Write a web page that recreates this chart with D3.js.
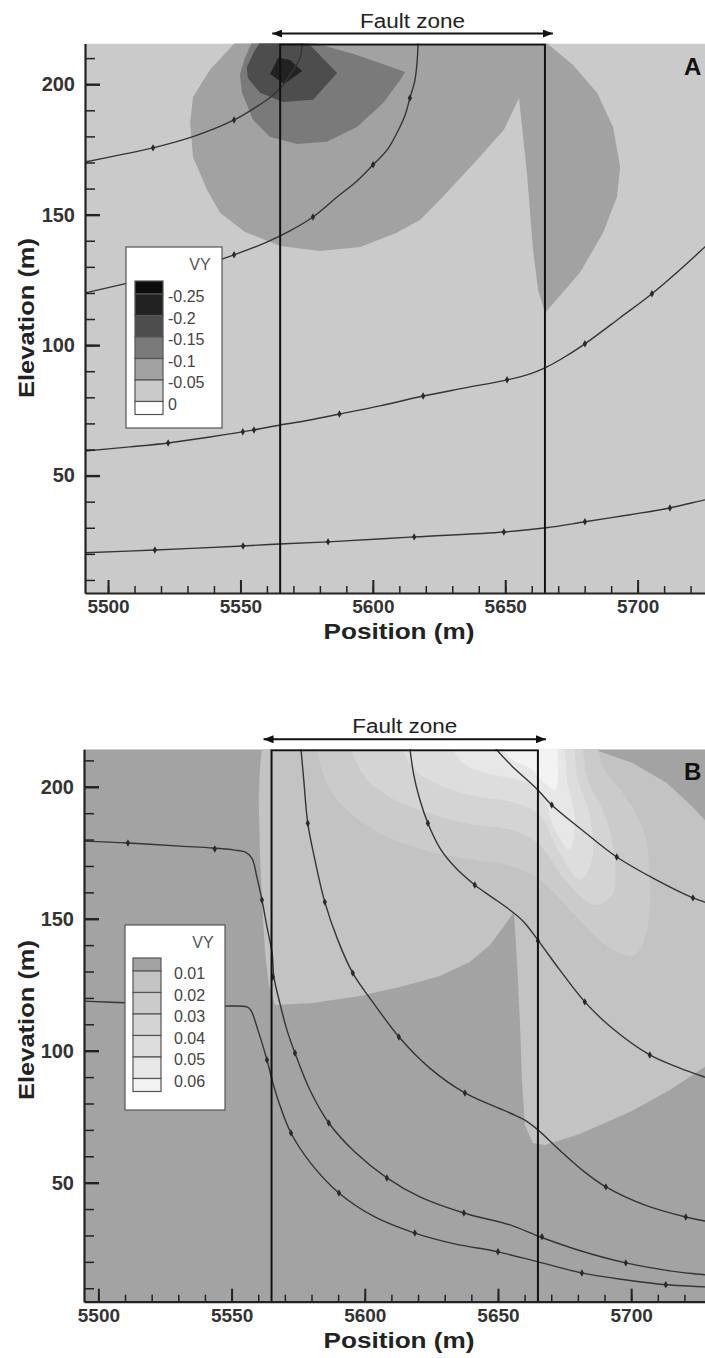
<!DOCTYPE html>
<html>
<head>
<meta charset="utf-8">
<script src="https://cdn.jsdelivr.net/npm/d3@7"></script>
<style>
  body { margin: 0; background: #fff; }
  svg { display: block; }
  text { font-family: "Liberation Sans", Arial, Helvetica, sans-serif; }
</style>
</head>
<body>
<svg id="fig" width="705" height="1358"></svg>
<script>
// ---------- shared axis data ----------
const positionTicks = [5500, 5550, 5600, 5650, 5700];
const elevationTicks = [50, 100, 150, 200];
const faultZone = [5565, 5665];
const faultArrow = [5562, 5668];

// ---------- panel A : VY (negative) ----------
const levelsA = [-0.25, -0.2, -0.15, -0.1, -0.05, 0];
const shadesA = ["#0b0b0b", "#222222", "#4d4d4d", "#7a7a7a", "#a2a2a2", "#cacaca", "#ffffff"];

// regions where VY falls below each level
const vyABelow005 = [
  [5549, 217], [5538.5, 205.5], [5532.1, 195.1], [5531.0, 185.2], [5532.1, 172.1],
  [5537.4, 159.5], [5542.3, 150.7], [5551.7, 143.4], [5565.0, 138.0], [5580.1, 136.1],
  [5595.2, 137.6], [5608.8, 143.0], [5617.8, 148.0], [5625.4, 155.7], [5639.4, 171.0],
  [5649.5, 182.5], [5655.2, 194.7], [5658.2, 166.0], [5660.5, 136.5], [5662.4, 121.2],
  [5665.0, 112.3], [5678.2, 127.7], [5686.9, 143.0], [5692.2, 156.8], [5693.4, 168.3],
  [5690.7, 183.6], [5684.7, 196.7], [5675.6, 207.4], [5666.9, 214.7], [5665, 217]
];
const vyABelow010 = [
  [5554.8, 217], [5551.7, 210.1], [5549.8, 203.6], [5550.6, 196.7], [5554.8, 186.3],
  [5561.2, 179.8], [5571.4, 177.1], [5582.7, 177.9], [5594.0, 183.6], [5603.9, 192.8],
  [5610.3, 201.6], [5612.2, 204.7], [5594.0, 211.2], [5574, 217]
];
const vyABelow015 = [
  [5561.2, 217], [5574.4, 217], [5586.5, 204.3], [5577.4, 194.0], [5566.1, 193.2],
  [5557.4, 196.7], [5552.8, 202.4], [5552.4, 206.6], [5555.5, 213.1], [5558.2, 217]
];
const vyABelow020 = [
  [5564.2, 210.1], [5568.7, 209.3], [5573.3, 205.1], [5566.5, 200.1], [5561.2, 203.9]
];

// streamlines (position, elevation) and their arrow marks
const streamA1 = [[5491.3, 170.2], [5504.5, 172.9], [5517.0, 175.6], [5532.9, 180.2], [5547.6, 186.3],
  [5556.6, 191.7], [5561.9, 195.5], [5565.7, 199.3], [5569.5, 204.7], [5572.5, 210.1], [5573.3, 216]];
const streamA1Marks = [[5517.0, 175.6], [5547.6, 186.3]];
const streamA2 = [[5491.3, 120.0], [5504.5, 123.1], [5519.6, 126.9], [5534.7, 130.4], [5547.6, 134.6],
  [5559.3, 139.2], [5568.7, 143.8], [5577.4, 149.1], [5586.5, 156.8], [5593.7, 162.6], [5600.1, 169.1],
  [5605.4, 174.8], [5609.1, 181.3], [5612.2, 188.2], [5614.0, 194.7], [5615.9, 201.6], [5616.7, 208.5], [5617.1, 216]];
const streamA2Marks = [[5547.6, 134.6], [5577.4, 149.1], [5600.1, 169.1], [5614.0, 194.7]];
const streamA3 = [[5491.3, 59.4], [5508.3, 61.0], [5522.7, 62.5], [5538.5, 64.8], [5555.1, 67.5],
  [5565.0, 69.4], [5576.3, 71.3], [5587.6, 73.6], [5602.7, 76.7], [5619.0, 80.5], [5634.8, 83.6],
  [5650.7, 86.7], [5659.4, 89.0], [5665.0, 91.3], [5670.7, 94.4], [5680.1, 100.5], [5693.4, 110.5],
  [5705.4, 119.7], [5716.0, 128.9], [5725.5, 137.7], [5731.1, 143.0]];
const streamA3Marks = [[5522.7, 62.5], [5550.9, 66.8], [5555.1, 67.5], [5587.4, 73.6], [5619.0, 80.5],
  [5650.7, 86.7], [5680.1, 100.5], [5705.4, 119.7]];
const streamA4 = [[5491.3, 20.4], [5517.7, 21.5], [5551.0, 23.0], [5564.6, 23.8], [5583.1, 24.6],
  [5615.6, 26.5], [5649.5, 28.4], [5665.4, 30.0], [5680.1, 32.3], [5697.1, 35.0], [5712.2, 37.6],
  [5725.5, 40.7], [5731.1, 41.8]];
const streamA4Marks = [[5517.7, 21.5], [5551.0, 23.0], [5583.1, 24.6], [5615.6, 26.5], [5649.5, 28.4],
  [5680.1, 32.3], [5712.2, 37.6]];

// ---------- panel B : VY (positive) ----------
const levelsB = [0.01, 0.02, 0.03, 0.04, 0.05, 0.06];
const shadesB = ["#a3a3a3", "#c3c3c3", "#cbcbcb", "#d4d4d4", "#dddddd", "#e7e7e7", "#f3f3f3"];

// regions where VY rises above each level
const vyBAbove001 = [
  [5562.1, 222], [5560.6, 206.3], [5560.2, 195.0], [5560.6, 176.0], [5561.4, 157.1],
  [5562.5, 138.2], [5564.0, 124.9], [5566.3, 117.3], [5580.5, 118.1], [5598.2, 120.7],
  [5613.2, 124.1], [5628.2, 128.3], [5639.4, 133.6], [5646.9, 140.0], [5652.6, 147.6],
  [5656.0, 152.6], [5657.1, 134.4], [5658.2, 111.6], [5659.0, 88.9], [5660.1, 71.8],
  [5663.1, 65.0], [5667.6, 64.3], [5680.7, 68.4], [5699.5, 76.8], [5714.5, 85.1],
  [5727.6, 93.8], [5737.0, 100.3], [5737.0, 183.6], [5727.6, 187.4], [5723.1, 192.3],
  [5713.4, 201.4], [5700.6, 209.0], [5685.6, 214.3], [5684.5, 222]
];
const vyBAbove002 = [
  [5583.9, 222], [5584.6, 204.4], [5591.4, 193.1], [5604.9, 182.9], [5622.6, 176.0],
  [5641.3, 172.2], [5655.2, 170.0], [5665.7, 164.7], [5678.9, 151.4], [5692.0, 138.9],
  [5701.4, 136.3], [5706.3, 147.6], [5707.0, 164.7], [5705.2, 181.7], [5698.8, 195.0],
  [5690.1, 206.3], [5682.6, 222]
];
const vyBAbove003 = [
  [5595.2, 222], [5598.9, 205.6], [5608.7, 196.5], [5622.6, 190.4], [5639.4, 185.9],
  [5655.2, 183.6], [5665.7, 177.9], [5675.1, 164.7], [5686.3, 155.2], [5692.8, 159.0],
  [5693.9, 172.2], [5690.1, 189.3], [5683.7, 202.5], [5677.7, 222]
];
const vyBAbove004 = [
  [5613.2, 222], [5617.7, 207.9], [5627.4, 201.0], [5641.3, 196.5], [5655.2, 194.2],
  [5665.7, 189.3], [5672.5, 176.0], [5680.7, 164.7], [5685.2, 172.2], [5684.5, 189.3],
  [5680.0, 202.5], [5675.1, 222]
];
const vyBAbove005 = [
  [5631.2, 222], [5636.5, 209.4], [5647.0, 204.8], [5658.2, 202.5], [5665.7, 198.8],
  [5671.4, 183.6], [5677.0, 176.0], [5678.9, 187.4], [5676.2, 200.6], [5671.4, 222]
];
const vyBAbove006 = [
  [5650.0, 222], [5654.5, 210.9], [5662.0, 207.1], [5666.5, 202.5], [5671.4, 198.8],
  [5672.5, 206.3], [5669.5, 222]
];

const streamB1 = [[5494.6, 179.4], [5511.1, 178.7], [5530.6, 177.5], [5543.0, 176.8], [5551.2, 176.0],
  [5555.0, 175.3], [5557.6, 173.0], [5559.5, 165.8], [5561.4, 157.1], [5563.3, 146.9], [5565.2, 137.0],
  [5565.9, 127.9], [5568.1, 118.1], [5570.8, 107.8], [5573.8, 99.1], [5579.4, 85.1], [5586.5, 72.6],
  [5596.3, 61.6], [5608.3, 51.8], [5620.7, 44.6], [5637.2, 38.5], [5654.5, 34.0], [5665.7, 29.5],
  [5680.0, 24.5], [5698.0, 19.6], [5714.5, 16.6], [5727.6, 15.1], [5733.3, 14.3]];
const streamB1Marks = [[5511.1, 178.7], [5543.7, 176.4], [5561.4, 157.1], [5565.5, 127.9], [5573.8, 99.1],
  [5586.5, 72.6], [5608.3, 51.8], [5637.2, 38.5], [5666.5, 29.5], [5698.0, 19.6]];
const streamB2 = [[5494.6, 118.8], [5511.8, 118.1], [5530.6, 117.3], [5545.6, 116.9], [5555.7, 116.6],
  [5557.2, 115.4], [5559.9, 107.8], [5563.3, 96.5], [5565.5, 87.8], [5568.1, 79.4], [5572.3, 68.8],
  [5579.4, 57.8], [5590.3, 46.1], [5603.8, 37.0], [5618.8, 30.9], [5633.8, 26.8], [5650.0, 23.8],
  [5665.0, 20.0], [5681.5, 15.8], [5697.6, 13.2], [5713.0, 11.3], [5727.6, 10.5], [5733.3, 10.1]];
const streamB2Marks = [[5563.3, 96.5], [5572.3, 68.8], [5590.3, 46.1], [5618.8, 30.9], [5650.0, 23.8],
  [5681.5, 15.8], [5713.0, 11.3]];
const streamB3 = [[5576.0, 215], [5577.1, 202.5], [5578.6, 186.2], [5581.3, 172.2], [5585.0, 156.3],
  [5589.9, 141.9], [5595.5, 129.4], [5603.8, 117.3], [5613.2, 104.8], [5624.4, 93.4], [5637.6, 84.0],
  [5654.5, 76.4], [5660.1, 73.7], [5665.0, 70.0], [5673.2, 62.3], [5682.6, 54.0], [5690.5, 48.4],
  [5705.2, 41.5], [5720.5, 37.0], [5727.6, 35.5], [5733.3, 34.7]];
const streamB3Marks = [[5578.6, 186.2], [5585.0, 156.3], [5595.5, 129.4], [5612.8, 105.2], [5637.6, 84.0],
  [5690.5, 48.4], [5720.5, 37.0]];
const streamB4 = [[5616.9, 215], [5618.4, 204.4], [5620.7, 195.0], [5623.7, 186.2], [5628.2, 176.8],
  [5634.2, 169.2], [5641.3, 162.8], [5647.7, 158.2], [5654.5, 153.3], [5659.7, 148.8], [5665.0, 141.9],
  [5673.2, 130.6], [5682.6, 118.5], [5692.8, 108.6], [5707.0, 98.4], [5718.3, 93.4], [5727.6, 90.0],
  [5733.3, 88.1]];
const streamB4Marks = [[5623.7, 186.2], [5641.3, 162.8], [5665.0, 141.6], [5682.6, 118.5], [5707.0, 98.4]];
const streamB5 = [[5648.6, 215], [5655.2, 207.9], [5664.6, 199.2], [5670.2, 193.1], [5682.6, 182.8],
  [5694.6, 173.4], [5708.9, 165.0], [5723.2, 157.9], [5727.6, 156.3], [5733.3, 154.1]];
const streamB5Marks = [[5670.2, 193.1], [5694.6, 173.4], [5723.2, 157.9]];

// ---------- drawing ----------
const svg = d3.select("#fig");
const defs = svg.append("defs");
defs.append("marker").attr("id", "arrowHead")
  .attr("viewBox", "0 0 10 8").attr("refX", 10).attr("refY", 4)
  .attr("markerWidth", 10).attr("markerHeight", 8).attr("markerUnits", "userSpaceOnUse")
  .attr("orient", "auto-start-reverse")
  .append("path").attr("d", "M0,0L10,4L0,8Z").attr("fill", "#111");

function drawPanel(o) {
  const x = d3.scaleLinear().domain(o.xDomain).range(o.xRange);
  const y = d3.scaleLinear().domain(o.yDomain).range(o.yRange);
  const [x0, x1] = o.xRange, [yb, yt] = o.yRange;
  const g = svg.append("g");

  defs.append("clipPath").attr("id", "clip" + o.name).append("rect")
    .attr("x", x0).attr("y", yt).attr("width", x1 - x0).attr("height", yb - yt);
  const plot = g.append("g").attr("clip-path", `url(#clip${o.name})`);

  plot.append("rect").attr("x", x0).attr("y", yt).attr("width", x1 - x0).attr("height", yb - yt)
    .attr("fill", o.background);

  o.regions.forEach(r => {
    const gen = d3.line().x(d => x(d[0])).y(d => y(d[1]))
      .curve(r.smooth ? d3.curveCatmullRomClosed.alpha(0.5) : d3.curveLinearClosed);
    plot.append("path").attr("d", gen(r.ring)).attr("fill", r.fill).attr("stroke", "none");
  });

  const streamGen = d3.line().x(d => x(d[0])).y(d => y(d[1])).curve(d3.curveCatmullRom.alpha(0.5));
  o.streams.forEach(s => {
    plot.append("path").attr("d", streamGen(s.pts)).attr("fill", "none")
      .attr("stroke", "#353535").attr("stroke-width", 1.4);
    plot.selectAll(null).data(s.marks).join("path")
      .attr("transform", d => `translate(${x(d[0])},${y(d[1])})`)
      .attr("d", d3.symbol(d3.symbolDiamond, 16)).attr("fill", "#2a2a2a");
  });

  // fault zone box
  const fx0 = x(faultZone[0]), fx1 = x(faultZone[1]);
  plot.append("path")
    .attr("d", `M${fx0},${yb}V${yt + 1}H${fx1}V${yb}`)
    .attr("fill", "none").attr("stroke", "#111").attr("stroke-width", 2);

  // fault zone arrow and caption
  const ay = yt - 10;
  g.append("line").attr("x1", x(faultArrow[0])).attr("x2", x(faultArrow[1]))
    .attr("y1", ay).attr("y2", ay).attr("stroke", "#111").attr("stroke-width", 2)
    .attr("marker-start", "url(#arrowHead)").attr("marker-end", "url(#arrowHead)");
  g.append("text").attr("x", x((faultArrow[0] + faultArrow[1]) / 2)).attr("y", ay - 6)
    .attr("text-anchor", "middle").attr("font-size", 20).attr("fill", "#222")
    .attr("textLength", 105).attr("lengthAdjust", "spacingAndGlyphs").text("Fault zone");

  // panel letter
  g.append("text").attr("x", 684).attr("y", yt + 31).attr("font-size", 24)
    .attr("font-weight", "bold").attr("fill", "#111").text(o.name);

  // axes
  const minorX = d3.range(5500, 5731, 10).filter(v => v > o.xDomain[0]);
  const minorY = d3.range(10, 215, 10).filter(v => v > o.yDomain[0] && v < o.yDomain[1]);

  const xMinor = g.append("g").attr("transform", `translate(0,${yb})`)
    .call(d3.axisBottom(x).tickValues(minorX).tickSize(-7).tickSizeOuter(0).tickFormat(""));
  xMinor.select(".domain").remove();
  xMinor.selectAll("line").attr("stroke", "#222").attr("stroke-width", 1.5);

  const xMajor = g.append("g").attr("transform", `translate(0,${yb})`)
    .call(d3.axisBottom(x).tickValues(positionTicks).tickSize(-13).tickSizeOuter(0).tickPadding(7)
      .tickFormat(d3.format("d")));
  xMajor.select(".domain").attr("stroke", "#222").attr("stroke-width", 2.2);
  xMajor.selectAll("line").attr("stroke", "#222").attr("stroke-width", 2);
  xMajor.selectAll("text").attr("font-size", 19).attr("font-weight", "bold").attr("fill", "#333")
    .attr("font-family", "'Liberation Sans', Arial, sans-serif");

  const yMinor = g.append("g").attr("transform", `translate(${x0},0)`)
    .call(d3.axisLeft(y).tickValues(minorY).tickSize(-10).tickSizeOuter(0).tickFormat(""));
  yMinor.select(".domain").remove();
  yMinor.selectAll("line").attr("stroke", "#222").attr("stroke-width", 1.5);

  const yMajor = g.append("g").attr("transform", `translate(${x0},0)`)
    .call(d3.axisLeft(y).tickValues(elevationTicks).tickSize(-15).tickSizeOuter(0).tickPadding(10)
      .tickFormat(d3.format("d")));
  yMajor.select(".domain").attr("stroke", "#222").attr("stroke-width", 2.2);
  yMajor.selectAll("line").attr("stroke", "#222").attr("stroke-width", 2.4);
  yMajor.selectAll("text").attr("font-size", 20).attr("font-weight", "bold").attr("fill", "#333")
    .attr("font-family", "'Liberation Sans', Arial, sans-serif");

  // axis titles
  g.append("text").attr("x", 399).attr("y", yb + 46)
    .attr("text-anchor", "middle").attr("font-size", 22).attr("font-weight", "bold").attr("fill", "#222")
    .attr("textLength", 151).attr("lengthAdjust", "spacingAndGlyphs").text("Position (m)");
  g.append("text").attr("transform", `translate(34,${o.titleY}) rotate(-90)`)
    .attr("text-anchor", "middle").attr("font-size", 22).attr("font-weight", "bold").attr("fill", "#222")
    .attr("textLength", 160).attr("lengthAdjust", "spacingAndGlyphs").text("Elevation (m)");

  // legend
  const L = o.legend;
  const lg = g.append("g");
  lg.append("rect").attr("x", L.x).attr("y", L.y).attr("width", L.w).attr("height", L.h)
    .attr("fill", "#fff").attr("stroke", "#555").attr("stroke-width", 1.2);
  lg.append("text").attr("x", L.x + L.w - 22).attr("y", L.y + 23).attr("text-anchor", "middle")
    .attr("font-size", 16).attr("fill", "#555").text("VY");
  const bandH = [13, 21.5, 21.5, 21.5, 21.5, 21.5, 13];
  const bandY = [L.swY];
  bandH.forEach((h, i) => bandY.push(bandY[i] + h));
  lg.selectAll(null).data(o.shades).join("rect")
    .attr("x", L.swX).attr("y", (d, i) => bandY[i]).attr("width", 28).attr("height", (d, i) => bandH[i])
    .attr("fill", d => d).attr("stroke", "#555").attr("stroke-width", 1.2);
  lg.selectAll(null).data(o.levels).join("text")
    .attr("x", L.labX).attr("y", (d, i) => bandY[i + 1] + 8)
    .attr("font-size", 16).attr("fill", "#444")
    .text(d => o.fmt(d));
}

const colorA = d3.scaleThreshold().domain(levelsA).range(shadesA);
const colorB = d3.scaleThreshold().domain(levelsB).range(shadesB);

drawPanel({
  name: "A",
  xDomain: [5491.3, 5735], xRange: [85, 730.3],
  yDomain: [5, 215.6], yRange: [593, 43.5],
  background: colorA(-0.01),
  regions: [
    { ring: vyABelow005, fill: colorA(-0.05 - 1e-6) },
    { ring: vyABelow010, fill: colorA(-0.1 - 1e-6) },
    { ring: vyABelow015, fill: colorA(-0.15 - 1e-6) },
    { ring: vyABelow020, fill: colorA(-0.2 - 1e-6) }
  ],
  streams: [
    { pts: streamA1, marks: streamA1Marks }, { pts: streamA2, marks: streamA2Marks },
    { pts: streamA3, marks: streamA3Marks }, { pts: streamA4, marks: streamA4Marks }
  ],
  titleY: 318,
  legend: { x: 126, y: 247, w: 96, h: 181, swX: 135, swY: 281, labX: 168 },
  levels: levelsA, shades: shadesA,
  fmt: d => (d === 0 ? "0" : "-" + String(Math.abs(d)))
});

drawPanel({
  name: "B",
  xDomain: [5494.6, 5735], xRange: [84, 724.4],
  yDomain: [4.9, 214.2], yRange: [1301.7, 749.3],
  background: colorB(0),
  regions: [
    { ring: vyBAbove001, fill: colorB(0.01) },
    { ring: vyBAbove002, fill: colorB(0.02), smooth: true },
    { ring: vyBAbove003, fill: colorB(0.03), smooth: true },
    { ring: vyBAbove004, fill: colorB(0.04), smooth: true },
    { ring: vyBAbove005, fill: colorB(0.05), smooth: true },
    { ring: vyBAbove006, fill: colorB(0.06), smooth: true }
  ],
  streams: [
    { pts: streamB1, marks: streamB1Marks }, { pts: streamB2, marks: streamB2Marks },
    { pts: streamB3, marks: streamB3Marks }, { pts: streamB4, marks: streamB4Marks },
    { pts: streamB5, marks: streamB5Marks }
  ],
  titleY: 1020,
  legend: { x: 125, y: 925, w: 100, h: 185, swX: 133, swY: 958, labX: 174 },
  levels: levelsB, shades: shadesB,
  fmt: d => d3.format(".2f")(d)
});
</script>
</body>
</html>
